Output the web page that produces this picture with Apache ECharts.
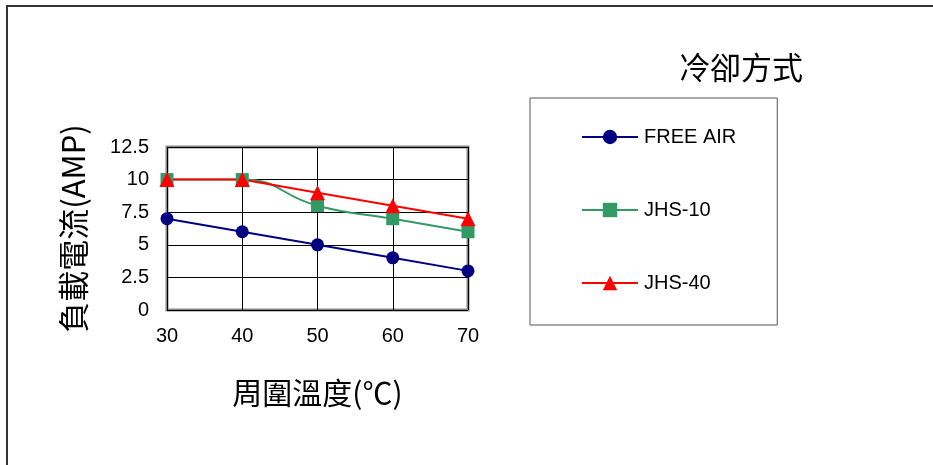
<!DOCTYPE html>
<html>
<head>
<meta charset="utf-8">
<script src="https://cdn.jsdelivr.net/npm/echarts@6/dist/echarts.min.js"></script>
<style>
  html, body { margin: 0; padding: 0; background: #fff; }
  #chart { width: 933px; height: 465px; }
</style>
</head>
<body>
<div id="chart"></div>
<script>
// Ambient temperature (°C) on the x axis
const temperatures = ['30', '40', '50', '60', '70'];

// Load current (AMP) for each cooling method
const freeAir = [7, 6, 5, 4, 3];
const jhs10 = [10, 10, 8, 7, 6];
const jhs40 = [10, 10, 9, 8, 7];

const seriesNames = ['FREE AIR', 'JHS-10', 'JHS-40'];

const LATIN = '"Liberation Sans", Arial, sans-serif';
const CJK = '"Noto Sans CJK TC", "Noto Sans CJK SC", sans-serif';

const chart = echarts.init(document.getElementById('chart'), null, { renderer: 'canvas' });

chart.setOption({
  backgroundColor: '#ffffff',
  animation: false,
  title: {
    text: '冷卻方式',
    left: 679,
    top: 52,
    padding: 0,
    textStyle: { fontFamily: CJK, fontSize: 31, fontWeight: 'normal', color: '#000' }
  },
  legend: {
    orient: 'vertical',
    left: 530,
    top: 98,
    padding: [29, 41, 32, 51],
    itemGap: 53,
    itemWidth: 56,
    itemHeight: 18,
    borderColor: '#555',
    borderWidth: 1,
    borderRadius: 0,
    textStyle: { fontFamily: LATIN, fontSize: 20, color: '#000', padding: [0, 0, 0, 1] },
    data: seriesNames
  },
  grid: {
    left: 167,
    right: 465,
    top: 147,
    bottom: 155,
    show: true,
    borderColor: '#888888',
    borderWidth: 3,
    backgroundColor: 'transparent'
  },
  xAxis: {
    type: 'category',
    data: temperatures,
    boundaryGap: false,
    name: '周圍溫度(℃)',
    nameLocation: 'middle',
    nameGap: 68,
    nameTextStyle: { fontFamily: CJK, fontSize: 30, color: '#000' },
    axisLine: { show: false },
    axisTick: { show: false },
    axisLabel: { margin: 16, fontFamily: LATIN, fontSize: 20, color: '#000' },
    splitLine: { show: true, lineStyle: { color: '#000', width: 1 } }
  },
  yAxis: {
    type: 'value',
    min: 0,
    max: 12.5,
    interval: 2.5,
    name: '負載電流(AMP)',
    nameLocation: 'middle',
    nameGap: 78,
    nameTextStyle: { fontFamily: CJK, fontSize: 31, color: '#000' },
    axisLine: { show: false },
    axisTick: { show: false },
    axisLabel: { margin: 18, fontFamily: LATIN, fontSize: 20, color: '#000' },
    splitLine: { show: true, lineStyle: { color: '#000', width: 1 } }
  },
  graphic: [
    {
      type: 'polyline',
      silent: true,
      shape: { points: [[7, 465], [7, 6], [933, 6]] },
      style: { stroke: '#333', lineWidth: 2, fill: null }
    }
  ],
  series: [
    {
      name: seriesNames[0],
      type: 'line',
      data: freeAir,
      symbol: 'circle',
      symbolSize: 13,
      lineStyle: { color: '#000080', width: 2 },
      itemStyle: { color: '#000080' }
    },
    {
      name: seriesNames[1],
      type: 'line',
      data: jhs10,
      smooth: 0.5,
      symbol: 'rect',
      symbolSize: 13,
      lineStyle: { color: '#339966', width: 2 },
      itemStyle: { color: '#339966' }
    },
    {
      name: seriesNames[2],
      type: 'line',
      data: jhs40,
      symbol: 'triangle',
      symbolSize: 15,
      lineStyle: { color: '#ff0000', width: 2 },
      itemStyle: { color: '#ff0000' }
    }
  ]
});
</script>
</body>
</html>
